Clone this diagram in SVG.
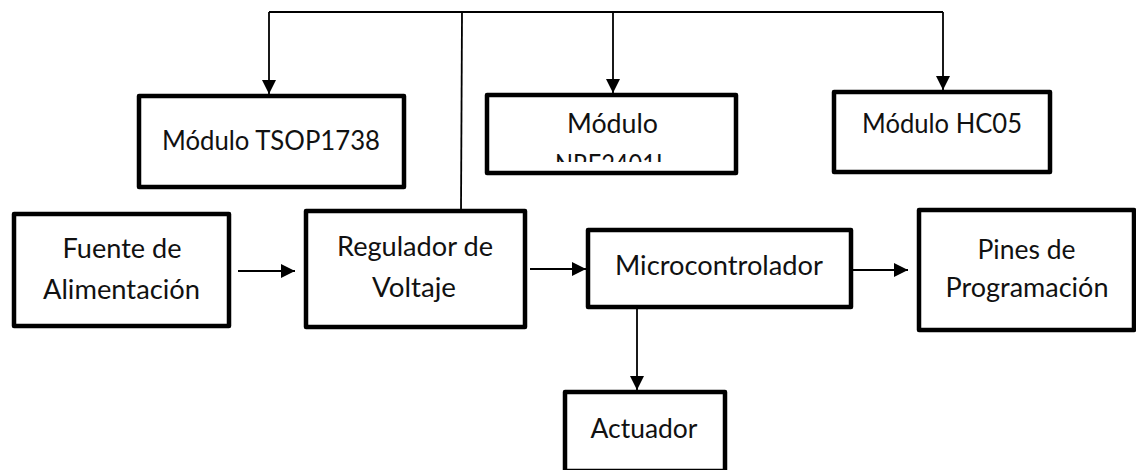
<svg xmlns="http://www.w3.org/2000/svg" width="1136" height="470" viewBox="0 0 1136 470">
<style>
.box{fill:#fff;stroke:#000;stroke-width:4.5;stroke-linejoin:round}
.lbl{font-family:Lato,"Liberation Sans",sans-serif;font-size:27px;fill:#111;text-anchor:middle}
.con{fill:none;stroke:#000;stroke-width:1.8}
.arr{marker-end:url(#ah)}
</style>
<defs>
<marker id="ah" markerUnits="userSpaceOnUse" markerWidth="15" markerHeight="14" refX="14" refY="7" orient="auto">
<path d="M0,0 L14,7 L0,14 z" fill="#000"/>
</marker>
<clipPath id="nrfclip"><rect x="490" y="98" width="244" height="64"/></clipPath>
</defs>
<rect width="1136" height="470" fill="#fff"/>
<g id="connectors">
<path class="con" d="M269,12 H943"/>
<path class="con arr" d="M269,12 V94"/>
<path class="con arr" d="M613,12 V93"/>
<path class="con arr" d="M943,12 V90"/>
<path class="con" d="M462,13 L461,210"/>
<path class="con arr" d="M238,271 H295"/>
<path class="con arr" d="M530,269 H586"/>
<path class="con arr" d="M853,270 H908"/>
<path class="con arr" d="M637,309 V390"/>
</g>
<g id="tsop">
<rect class="box" x="139" y="96" width="265" height="91"/>
<text class="lbl" x="271" y="150" textLength="218" lengthAdjust="spacingAndGlyphs">Módulo TSOP1738</text>
</g>
<g id="nrf">
<rect class="box" x="487" y="95" width="249" height="78"/>
<text class="lbl" x="612.5" y="133" textLength="91" lengthAdjust="spacingAndGlyphs">Módulo</text>
<text class="lbl" x="611.5" y="174" textLength="113" lengthAdjust="spacingAndGlyphs" clip-path="url(#nrfclip)">NRF2401L</text>
</g>
<g id="hc05">
<rect class="box" x="834" y="92" width="216" height="80"/>
<text class="lbl" x="942" y="133" textLength="160" lengthAdjust="spacingAndGlyphs">Módulo HC05</text>
</g>
<g id="fuente">
<rect class="box" x="14" y="214" width="215" height="112"/>
<text class="lbl" x="122" y="258" textLength="119" lengthAdjust="spacingAndGlyphs">Fuente de</text>
<text class="lbl" x="121.5" y="299" textLength="157" lengthAdjust="spacingAndGlyphs">Alimentación</text>
</g>
<g id="regulador">
<rect class="box" x="306" y="211" width="219" height="116"/>
<text class="lbl" x="415" y="256" textLength="156" lengthAdjust="spacingAndGlyphs">Regulador de</text>
<text class="lbl" x="414" y="297" textLength="84" lengthAdjust="spacingAndGlyphs">Voltaje</text>
</g>
<g id="micro">
<rect class="box" x="588" y="230" width="263" height="77"/>
<text class="lbl" x="719" y="275" textLength="208" lengthAdjust="spacingAndGlyphs">Microcontrolador</text>
</g>
<g id="pines">
<rect class="box" x="919" y="210" width="215" height="120"/>
<text class="lbl" x="1026.5" y="259" textLength="98" lengthAdjust="spacingAndGlyphs">Pines de</text>
<text class="lbl" x="1027" y="297" textLength="163" lengthAdjust="spacingAndGlyphs">Programación</text>
</g>
<g id="actuador">
<rect class="box" x="565" y="392" width="160" height="79"/>
<text class="lbl" x="644" y="438" textLength="107" lengthAdjust="spacingAndGlyphs">Actuador</text>
</g>
</svg>
